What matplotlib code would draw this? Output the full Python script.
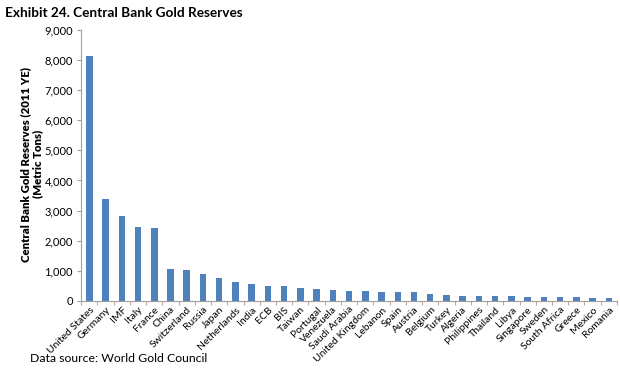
import matplotlib
matplotlib.use('Agg')
import matplotlib.pyplot as plt
import numpy as np

# data (2011 year-end, metric tons)
countries = ['United States', 'Germany', 'IMF', 'Italy', 'France', 'China', 'Switzerland',
             'Russia', 'Japan', 'Netherlands', 'India', 'ECB', 'BIS', 'Taiwan', 'Portugal',
             'Venezuela', 'Saudi Arabia', 'United Kingdom', 'Lebanon', 'Spain', 'Austria',
             'Belgium', 'Turkey', 'Algeria', 'Philippines', 'Thailand', 'Libya', 'Singapore',
             'Sweden', 'South Africa', 'Greece', 'Mexico', 'Romania']
reserves = [8133, 3396, 2814, 2452, 2435, 1054, 1040, 883, 765, 612, 558, 502, 478, 422,
            382, 366, 323, 310, 287, 282, 280, 227, 185, 174, 160, 152, 144, 127, 126,
            125, 112, 108, 104]
yticks = [0, 1000, 2000, 3000, 4000, 5000, 6000, 7000, 8000, 9000]

plt.rcParams['font.family'] = ['Lato', 'DejaVu Sans']

fig = plt.figure(figsize=(6.2, 3.7), dpi=100)
ax = fig.add_axes([0.131, 0.187, 0.864, 0.732])

x = np.arange(len(countries))
ax.bar(x, reserves, width=0.4, color='#4F81BD')

ax.set_xlim(-0.5, len(countries) - 0.5)
ax.set_ylim(0, 9000)
ax.set_yticks(yticks)
ax.set_yticklabels([f'{v:,}' for v in yticks], fontsize=8)
ax.set_xticks(x)
ax.set_xticklabels(countries, rotation=45, ha='right', rotation_mode='anchor', fontsize=7.5)
ax.tick_params(axis='x', length=0, pad=3)
ax.set_xticks(np.arange(len(countries) + 1) - 0.5, minor=True)
ax.tick_params(axis='x', which='minor', length=3, color='#C8A888', width=0.8)
ax.tick_params(axis='y', length=3, color='#A0A0A0', width=0.8, pad=3)

for s in ['top', 'right']:
    ax.spines[s].set_visible(False)
ax.spines['left'].set_color('#A0A0A0')
ax.spines['bottom'].set_color('#A0A0A0')

ax.set_ylabel('Central Bank Gold Reserves (2011 YE)\n(Metric Tons)', fontsize=8.2,
              fontweight='heavy', linespacing=1.15)
ax.yaxis.set_label_coords(-0.071, 0.505)

fig.text(0.008, 0.965, 'Exhibit 24. Central Bank Gold Reserves', fontsize=9.8,
         fontweight='bold', va='center')
fig.text(0.048, 0.03, 'Data source: World Gold Council', fontsize=8.8, va='center')

fig.savefig('out.png', dpi=100)
